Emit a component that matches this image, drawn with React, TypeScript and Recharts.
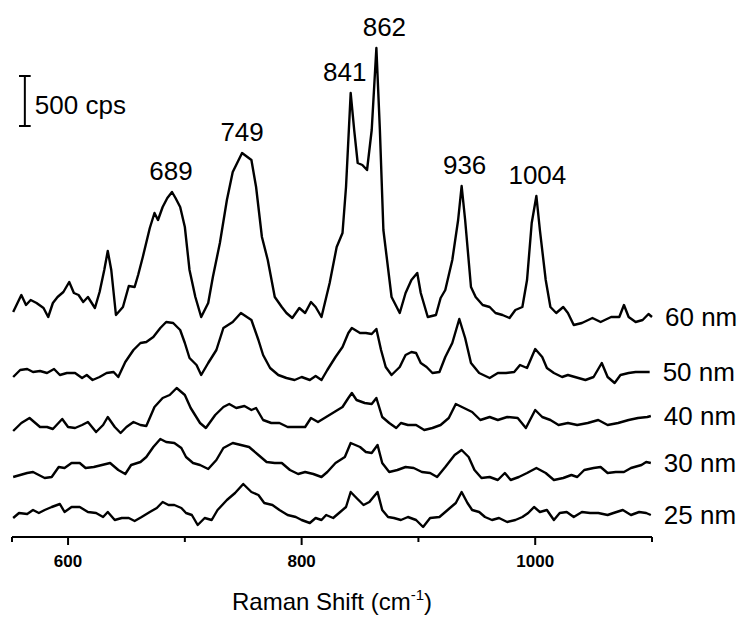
import { Line, LineChart, ReferenceLine, XAxis, YAxis } from "recharts";

const FONT = "'Liberation Sans', Arial, Helvetica, sans-serif";

// Raman shift (cm-1) vs counts above each trace's own baseline (cps)
const trace60: [number, number][] = [
  [553, 80], [560, 250], [564, 150], [568, 200], [573, 170], [579, 120], [583, 30], [587, 170],
  [591, 230], [596, 280], [601, 380], [605, 270], [609, 250], [613, 180], [617, 230], [623, 120],
  [627, 280], [631, 500], [634, 690], [637, 500], [641, 50], [647, 130], [652, 340], [657, 330],
  [660, 450], [664, 630], [670, 920], [674, 1070], [677, 1000], [681, 1130], [685, 1220], [689, 1280],
  [692, 1220], [696, 1130], [700, 930], [704, 500], [709, 230], [714, 30], [720, 170], [724, 430],
  [730, 770], [736, 1200], [741, 1480], [749, 1670], [757, 1600], [761, 1330], [766, 830], [771, 600],
  [777, 230], [783, 130], [787, 70], [792, 20], [798, 120], [803, 70], [808, 180], [812, 130],
  [817, 30], [824, 370], [830, 730], [835, 870], [838, 1330], [842, 2270], [845, 1900], [848, 1570],
  [852, 1550], [856, 1500], [860, 1900], [864, 2720], [867, 1900], [870, 900], [877, 230], [884, 70],
  [889, 270], [894, 400], [899, 470], [902, 270], [908, 30], [915, 50], [919, 220], [923, 300],
  [929, 600], [934, 1000], [937, 1340], [940, 1000], [945, 330], [949, 230], [955, 150], [961, 130],
  [966, 70], [972, 50], [978, 20], [983, 100], [989, 130], [993, 400], [997, 970], [1001, 1240],
  [1004, 900], [1009, 400], [1013, 130], [1018, 70], [1024, 130], [1028, 70], [1033, -50], [1040, -30],
  [1049, 20], [1056, -20], [1065, 30], [1072, 30], [1076, 150], [1080, 30], [1086, -20], [1092, 0],
  [1097, 60], [1100, 30],
];

const trace50: [number, number][] = [
  [553, 0], [559, 70], [565, 80], [570, 50], [576, 60], [582, 40], [588, 80], [593, 20],
  [599, 40], [606, 40], [612, -10], [616, 20], [621, -30], [627, 0], [633, 40], [639, 50],
  [643, 0], [649, 150], [656, 270], [662, 340], [667, 350], [673, 400], [679, 490], [684, 550],
  [690, 540], [696, 470], [700, 340], [704, 190], [710, 120], [714, 20], [720, 140], [727, 270],
  [733, 490], [741, 550], [748, 640], [757, 570], [763, 370], [767, 220], [773, 90], [780, 20],
  [787, -10], [794, -30], [800, 0], [807, -30], [812, 10], [817, -30], [822, 70], [829, 200],
  [835, 300], [840, 440], [843, 490], [850, 440], [855, 440], [860, 430], [864, 480], [868, 270],
  [872, 100], [877, 20], [884, 100], [889, 220], [894, 250], [898, 240], [902, 140], [907, 100],
  [912, 40], [918, 50], [923, 200], [929, 340], [935, 580], [940, 390], [945, 140], [952, 40],
  [961, -10], [968, 40], [975, 40], [982, 50], [987, 120], [993, 90], [1000, 280], [1006, 200],
  [1010, 90], [1016, 40], [1023, 0], [1028, 20], [1034, 0], [1043, -30], [1050, 0], [1057, 140],
  [1062, 0], [1068, -60], [1073, 20], [1080, 40], [1086, 50], [1091, 50], [1098, 50],
];

const trace40: [number, number][] = [
  [553, -40], [560, 40], [567, 90], [572, 40], [576, 0], [582, 0], [587, -20], [595, 80],
  [600, 0], [606, -10], [612, 20], [617, 50], [624, -50], [630, 20], [634, 100], [640, 0],
  [645, -60], [650, 0], [656, 50], [662, 20], [667, 10], [674, 200], [681, 290], [687, 320],
  [693, 390], [700, 320], [705, 190], [713, 40], [718, -10], [726, 120], [733, 200], [738, 230],
  [744, 190], [751, 210], [757, 170], [761, 190], [767, 70], [774, 40], [781, 40], [788, 0],
  [795, 0], [803, 0], [808, 90], [814, 50], [821, 100], [828, 150], [835, 200], [840, 290],
  [843, 340], [847, 270], [854, 240], [860, 230], [864, 290], [869, 100], [875, 40], [881, -10],
  [885, 40], [891, 20], [898, 20], [905, -30], [912, -10], [919, 20], [926, 90], [932, 230],
  [939, 190], [946, 150], [953, 70], [961, 100], [968, 70], [976, 100], [985, 90], [992, -10],
  [1000, 170], [1006, 100], [1013, 70], [1020, 20], [1028, 40], [1036, 20], [1045, 40], [1054, 70],
  [1062, 20], [1071, 40], [1080, 70], [1088, 90], [1096, 100], [1099, 110],
];

const trace30: [number, number][] = [
  [553, -20], [559, 0], [565, 20], [570, 30], [575, 0], [580, -30], [586, -20], [592, 80],
  [597, 70], [603, 120], [610, 120], [615, 70], [622, 80], [629, 100], [636, 120], [643, 50],
  [649, 10], [654, 100], [662, 130], [667, 180], [673, 280], [679, 360], [684, 330], [691, 320],
  [697, 270], [701, 180], [707, 120], [713, 100], [720, 60], [727, 150], [733, 270], [741, 320],
  [748, 300], [755, 280], [763, 200], [770, 130], [777, 120], [783, 120], [790, 50], [797, 10],
  [803, 30], [810, 10], [817, -20], [822, 30], [829, 120], [837, 180], [842, 320], [850, 280],
  [855, 230], [860, 220], [865, 300], [869, 120], [875, 30], [882, 50], [889, 80], [896, 70],
  [903, 30], [910, 20], [916, -20], [923, 80], [931, 200], [937, 250], [943, 180], [948, 50],
  [954, -30], [961, -20], [968, -50], [974, 20], [979, -50], [986, -20], [993, 20], [1001, 70],
  [1009, 20], [1016, -50], [1024, -30], [1031, 0], [1036, -20], [1042, 50], [1050, 70], [1056, 80],
  [1062, 20], [1069, 30], [1076, 30], [1082, 70], [1091, 100], [1095, 130], [1099, 120],
];

const trace25: [number, number][] = [
  [553, -30], [558, 20], [565, 10], [570, 50], [575, 20], [580, 50], [586, 80], [593, 110],
  [597, 30], [603, 80], [610, 80], [617, 30], [624, 20], [630, -20], [634, 30], [640, -50],
  [646, -30], [652, -30], [657, -60], [663, -20], [670, 30], [676, 70], [681, 130], [686, 100],
  [691, 100], [697, 70], [701, 20], [706, 0], [711, -100], [717, -30], [723, -50], [728, 50],
  [736, 150], [743, 220], [750, 310], [757, 230], [763, 200], [768, 120], [775, 100], [781, 50],
  [788, 0], [795, -20], [800, -50], [807, -80], [812, -30], [817, -50], [821, 0], [827, -30],
  [832, 20], [838, 80], [842, 230], [847, 170], [853, 100], [858, 130], [865, 230], [869, 50],
  [874, -20], [879, -30], [885, -50], [891, -20], [898, -50], [904, -120], [910, -30], [918, -20],
  [925, 50], [932, 120], [937, 230], [942, 120], [946, 50], [952, 30], [957, -20], [963, -50],
  [969, -30], [976, -70], [983, -50], [989, -20], [994, 20], [999, 80], [1004, 30], [1010, 50],
  [1016, -50], [1021, 20], [1027, 30], [1033, -20], [1040, 30], [1047, 20], [1054, 20], [1062, 0],
  [1067, 20], [1075, 50], [1082, 0], [1089, 30], [1095, 20], [1099, 0],
];

const traces = [trace60, trace50, trace40, trace30, trace25];
const traceNames = ["60 nm", "50 nm", "40 nm", "30 nm", "25 nm"];
const traceOffsets = [2170, 1600, 1100, 620, 220];

const xTicks = [552, 600, 700, 800, 900, 1000, 1100];
const labelledTicks = [600, 800, 1000];

const peakShifts = [689, 749, 842, 864, 937, 1001];
const peakNames = ["689", "749", "841", "862", "936", "1004"];
const peakNudge = [-1, 0, -6, 8, 3, 1]; // px, keeps 841 / 862 apart

const series = traces.map((t, i) =>
  t.map(([shift, counts]) => ({ shift, cps: counts + traceOffsets[i] }))
);

function ShiftTick({ x, y, payload }: any) {
  const v = payload.value;
  const major = labelledTicks.includes(v);
  return (
    <g>
      <line x1={x} x2={x} y1={y} y2={y + (major ? 8 : 5)} stroke="#000" strokeWidth={2} />
      {major && (
        <text x={x} y={y + 30} textAnchor="middle" fontSize={17} fontWeight="bold" fontFamily={FONT} fill="#000">
          {v}
        </text>
      )}
    </g>
  );
}

function AxisTitle(props: any) {
  const vb = props.viewBox ?? { x: 12, y: 537, width: 640 };
  return (
    <text x={vb.x + vb.width / 2} y={vb.y + 73} textAnchor="middle" fontSize={24} fontFamily={FONT} fill="#000">
      Raman Shift (cm
      <tspan fontSize={15} dy={-10}>-1</tspan>
      <tspan dy={10}>)</tspan>
    </text>
  );
}

// dots are used only to hang the trace names and peak positions on the data
const traceDot = (i: number) => (p: any) => {
  const { cx, cy, index, payload } = p;
  const key = `dot-${i}-${index}`;
  if (index === traces[i].length - 1) {
    return (
      <text key={key} x={cx + 13} y={cy + 9} fontSize={26} fontFamily={FONT} fill="#000">
        {traceNames[i]}
      </text>
    );
  }
  if (i === 0) {
    const k = peakShifts.indexOf(payload.shift);
    if (k >= 0) {
      return (
        <text key={key} x={cx + peakNudge[k]} y={cy - 12} textAnchor="middle" fontSize={26} fontFamily={FONT} fill="#000">
          {peakNames[k]}
        </text>
      );
    }
  }
  return <g key={key} />;
};

export default function App() {
  return (
    <div style={{ position: "absolute", left: 0, top: 0, background: "#fff" }}>
      <LineChart width={740} height={618} margin={{ top: 27, right: 88, bottom: 0, left: 12 }}>
        <XAxis
          dataKey="shift"
          type="number"
          domain={[552, 1100]}
          ticks={xTicks}
          interval={0}
          allowDuplicatedCategory={false}
          height={81}
          tickSize={0}
          tickMargin={0}
          tickLine={false}
          axisLine={{ stroke: "#000", strokeWidth: 2 }}
          tick={<ShiftTick />}
          label={AxisTitle}
        />
        <YAxis type="number" domain={[0, 5100]} hide />
        {/* 500 cps scale bar */}
        <ReferenceLine
          segment={[{ x: 563, y: 4110 }, { x: 563, y: 4610 }]}
          stroke="#000"
          strokeWidth={2}
          ifOverflow="visible"
          label={{ value: "500 cps", position: "right", offset: 10, dy: 4, fontSize: 26, fill: "#000", fontFamily: FONT }}
        />
        <ReferenceLine segment={[{ x: 558, y: 4610 }, { x: 568, y: 4610 }]} stroke="#000" strokeWidth={2} ifOverflow="visible" />
        <ReferenceLine segment={[{ x: 558, y: 4110 }, { x: 568, y: 4110 }]} stroke="#000" strokeWidth={2} ifOverflow="visible" />
        {series.map((d, i) => (
          <Line
            key={traceNames[i]}
            data={d}
            dataKey="cps"
            type="linear"
            stroke="#000"
            strokeWidth={2.4}
            strokeLinejoin="round"
            dot={traceDot(i)}
            activeDot={false}
            isAnimationActive={false}
          />
        ))}
      </LineChart>
    </div>
  );
}
